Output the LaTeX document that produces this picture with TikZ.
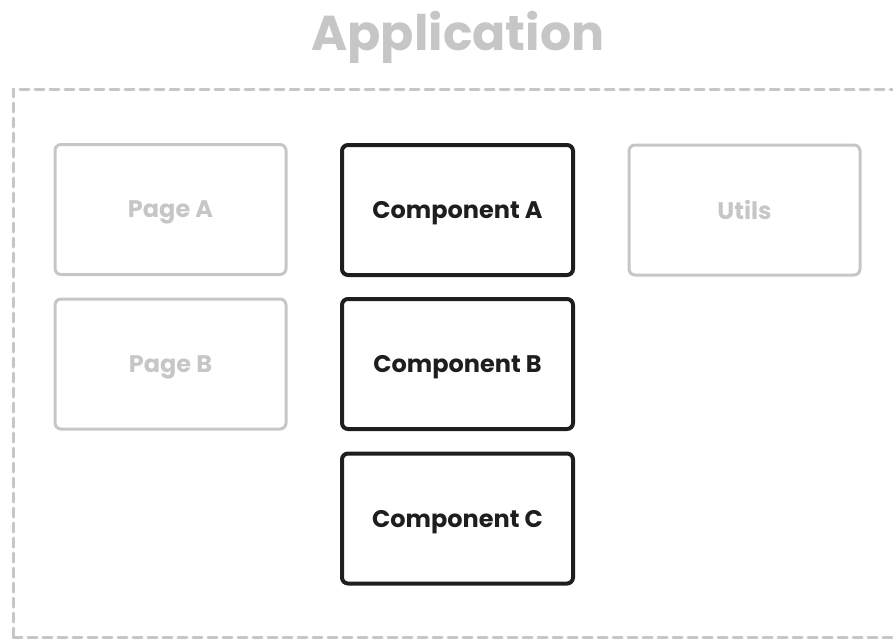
\documentclass[tikz,border=0pt]{standalone}
\usepackage{fontspec}
\setmainfont{Poppins}
\definecolor{lightgray}{HTML}{C6C6C6}
\definecolor{inkblack}{HTML}{1E1E1E}
\begin{document}
\begin{tikzpicture}[x=1pt,y=-1pt,
  box/.style={rectangle,rounded corners=6pt,minimum width=231pt,minimum height=130pt,inner sep=0pt,text depth=0pt,font=\fontsize{24}{28}\selectfont\bfseries},
  dimbox/.style={box,draw=lightgray,line width=3pt,text=lightgray},
  darkbox/.style={box,draw=inkblack,line width=4pt,text=inkblack}]
\useasboundingbox (0,0) rectangle (893,640);
\begin{scope}
\clip (0,0) rectangle (893,640);
\draw[lightgray,line width=3pt,dash pattern=on 9pt off 6pt,line cap=round] (13,637) -- (13,89) -- (905,89);
\draw[lightgray,line width=3pt,dash pattern=on 9pt off 6pt,line cap=round] (13,637) -- (905,637);
\end{scope}
\node[text=lightgray,font=\fontsize{49}{56}\selectfont\bfseries] (title) at (458,37) {Application};
\node[dimbox] (pageA) at (170.5,209.5) {Page A};
\node[dimbox] (pageB) at (170.5,364) {Page B};
\node[darkbox] (compA) at (457.5,210) {Component A};
\node[darkbox] (compB) at (457.5,364) {Component B};
\node[darkbox] (compC) at (457.5,518.5) {Component C};
\node[dimbox] (utils) at (744.5,210) {Utils};
\end{tikzpicture}
\end{document}
